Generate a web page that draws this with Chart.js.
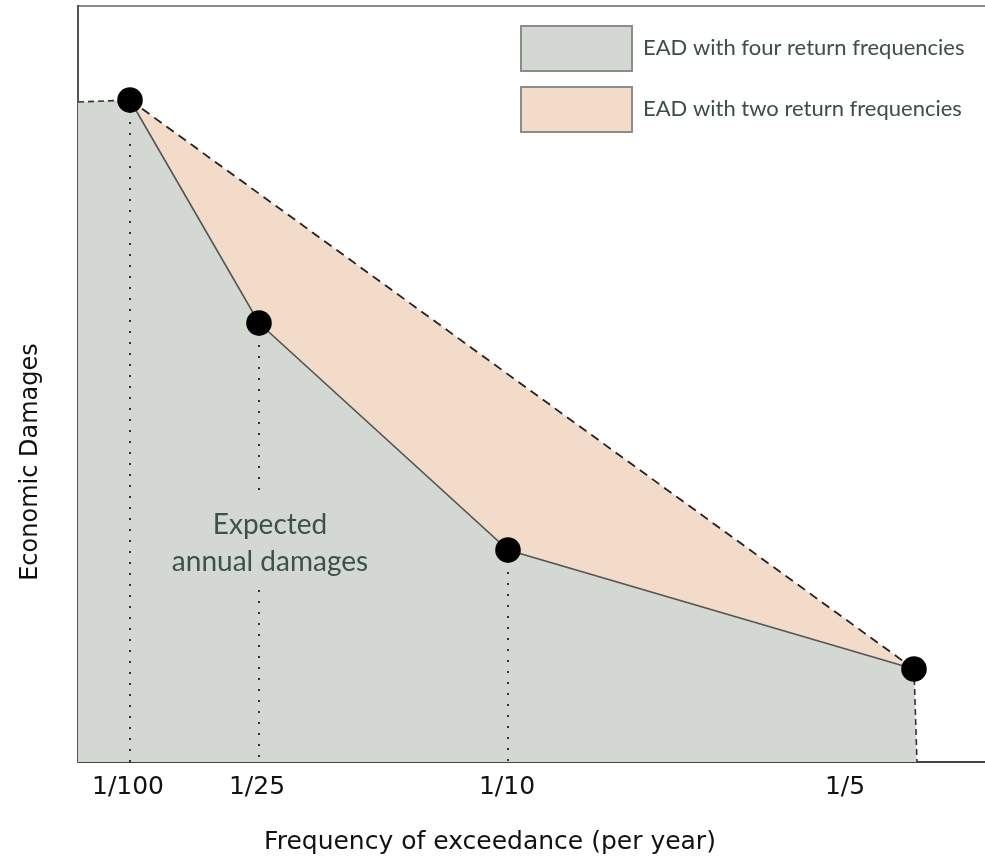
<!DOCTYPE html>
<html>
<head>
<meta charset="utf-8">
<title>Expected annual damages</title>
<script src="https://cdn.jsdelivr.net/npm/chart.js@4.4.1/dist/chart.umd.min.js"></script>
<style>
  html, body { margin: 0; padding: 0; background: #fff; }
  #wrap { width: 985px; height: 863px; }
</style>
</head>
<body>
<div id="wrap"><canvas id="eadChart" width="985" height="863"></canvas></div>
<script>
// schematic axes: x is position along the frequency axis, y is damage level
const xMax = 907;
const yMax = 756;

const freqLabels = ['1/100', '1/25', '1/10', '1/5'];
const freqPos = [52, 181, 430, 836];
const labelPos = [50, 179, 429, 767];
const damages = [662, 439, 212, 93];

// where the curve meets the axes
const leftEdge = { x: 0, y: 660 };
const rightEdge = { x: 839, y: 0 };

// gap in the 1/25 dotted line, behind the label
const gapTop = 272;
const gapBottom = 172;

const legendLabels = ['EAD with four return frequencies', 'EAD with two return frequencies'];
const grayFill = '#d4d8d3';
const peachFill = '#f2dbc9';

function fourPoints() {
    const pts = [leftEdge];
    freqPos.forEach((x, i) => pts.push({ x: x, y: damages[i] }));
    pts.push(rightEdge);
    return pts;
}

function twoPoints() {
    const last = freqPos.length - 1;
    return [{ x: freqPos[0], y: damages[0] }, { x: freqPos[last], y: damages[last] }];
}

function dottedLine(i) {
    if (i === 1) {
        return [
            { x: freqPos[i], y: damages[i] }, { x: freqPos[i], y: gapTop },
            { x: freqPos[i], y: null },
            { x: freqPos[i], y: gapBottom }, { x: freqPos[i], y: 0 }
        ];
    }
    return [{ x: freqPos[i], y: damages[i] }, { x: freqPos[i], y: 0 }];
}

const fourData = fourPoints();

const datasets = [
    {
        label: legendLabels[0],
        data: fourData,
        borderColor: '#555',
        borderWidth: 1.6,
        backgroundColor: grayFill,
        fill: 'origin',
        pointRadius: fourData.map((p, i) => (i === 0 || i === fourData.length - 1) ? 0 : 12),
        pointBackgroundColor: '#000',
        pointBorderColor: '#000',
        segment: {
            borderDash: ctx => (ctx.p0DataIndex === 0 || ctx.p1DataIndex === fourData.length - 1) ? [6, 4] : undefined,
            borderColor: ctx => (ctx.p0DataIndex === 0 || ctx.p1DataIndex === fourData.length - 1) ? '#333' : undefined
        },
        order: 0
    },
    {
        label: legendLabels[1],
        data: twoPoints(),
        borderColor: '#222',
        borderWidth: 1.8,
        borderDash: [9, 6],
        backgroundColor: peachFill,
        fill: 'origin',
        pointRadius: 0,
        order: 2
    }
];

freqPos.slice(0, 3).forEach((x, i) => {
    datasets.push({
        label: '',
        data: dottedLine(i),
        borderColor: '#333',
        borderWidth: 2,
        borderDash: [2, 9],
        pointRadius: 0,
        fill: false,
        spanGaps: false,
        order: 1
    });
});

// legend, axis titles and the label inside the area
const textPlugin = {
    id: 'textPlugin',
    afterDraw(chart) {
        const ctx = chart.ctx;
        ctx.save();

        // legend boxes
        const fills = [grayFill, peachFill];
        const boxTops = [26, 87];
        ctx.lineWidth = 2;
        ctx.strokeStyle = '#8c8c8c';
        ctx.font = '22px Lato';
        ctx.textBaseline = 'middle';
        ctx.textAlign = 'left';
        legendLabels.forEach((txt, i) => {
            ctx.fillStyle = fills[i];
            ctx.fillRect(521, boxTops[i], 111, 45);
            ctx.strokeRect(521, boxTops[i], 111, 45);
            ctx.fillStyle = '#3d4d48';
            ctx.fillText(txt, 643, boxTops[i] + 22);
        });

        // text in the gray area
        ctx.fillStyle = '#3d514b';
        ctx.font = '28px Lato';
        ctx.textAlign = 'center';
        ctx.fillText('Expected', 270, 525);
        ctx.fillText('annual damages', 270, 562);

        // axis titles
        ctx.fillStyle = '#111';
        ctx.font = '25px "DejaVu Sans"';
        ctx.fillText('Frequency of exceedance (per year)', 490, 842);
        ctx.font = '24px "DejaVu Sans"';
        ctx.translate(31, 462);
        ctx.rotate(-Math.PI / 2);
        ctx.fillText('Economic Damages', 0, 0);

        ctx.restore();
    }
};

const ctx = document.getElementById('eadChart').getContext('2d');
const eadChart = new Chart(ctx, {
    type: 'line',
    data: { datasets: datasets },
    options: {
        responsive: false,
        animation: false,
        layout: { padding: 0 },
        plugins: {
            legend: { display: false },
            tooltip: { enabled: false },
            filler: { drawTime: 'beforeDatasetsDraw' }
        },
        scales: {
            x: {
                type: 'linear',
                min: 0,
                max: xMax,
                grid: { display: false, drawTicks: false },
                border: { display: true, color: '#444', width: 2 },
                afterBuildTicks: scale => {
                    scale.ticks = labelPos.map(v => ({ value: v }));
                },
                afterFit: scale => { scale.height = 101; },
                ticks: {
                    autoSkip: false,
                    maxRotation: 0,
                    padding: 10,
                    color: '#111',
                    font: { family: 'DejaVu Sans', size: 25 },
                    callback: (value) => freqLabels[labelPos.indexOf(value)]
                }
            },
            xTop: {
                type: 'linear',
                position: 'top',
                min: 0,
                max: xMax,
                grid: { display: false, drawTicks: false },
                border: { display: true, color: '#8a8a8a', width: 2 },
                ticks: { display: false },
                afterFit: scale => { scale.height = 6; }
            },
            y: {
                type: 'linear',
                min: 0,
                max: yMax,
                grid: { display: false, drawTicks: false },
                border: { display: true, color: '#555', width: 2 },
                ticks: { display: false },
                afterFit: scale => { scale.width = 78; }
            }
        }
    },
    plugins: [textPlugin]
});
</script>
</body>
</html>
